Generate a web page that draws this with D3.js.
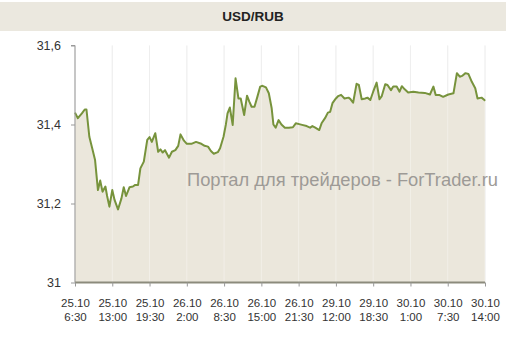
<!DOCTYPE html>
<html><head><meta charset="utf-8">
<script src="https://cdn.jsdelivr.net/npm/d3@7"></script>
<style>html,body{margin:0;padding:0;background:#fff;}svg{display:block;}</style>
</head><body>
<svg id="c" width="506" height="338"></svg>
<script>
const title = "USD/RUB";
const watermark = "Портал для трейдеров - ForTrader.ru";
const tickDates = ["25.10","25.10","25.10","26.10","26.10","26.10","26.10","29.10","29.10","30.10","30.10","30.10"];
const tickTimes = ["6:30","13:00","19:30","2:00","8:30","15:00","21:30","12:00","18:30","1:00","7:30","14:00"];
const yTicks = [31, 31.2, 31.4, 31.6];
// trading hours elapsed since 25.10 6:30 (axis labels every 6.5 h)
const hoursFromStart = [0.0,0.5,1.2,1.7,2.0,2.5,3.0,3.5,4.0,4.4,4.8,5.3,5.6,6.0,6.5,6.9,7.5,8.1,8.5,8.9,9.5,10.1,10.5,11.0,11.4,12.0,12.6,13.0,13.4,14.0,14.5,14.9,15.3,15.7,16.4,16.9,17.5,18.0,18.4,19.0,19.5,20.3,21.1,21.9,22.6,23.2,23.7,24.2,24.9,25.3,25.9,26.3,26.6,27.0,27.5,28.0,28.5,28.9,29.5,30.0,30.4,30.8,31.3,31.8,32.3,32.7,33.3,33.8,34.3,34.6,35.0,35.5,36.0,36.6,37.3,38.0,38.5,39.1,39.6,40.4,41.0,41.4,41.9,42.6,43.0,43.6,44.1,44.5,44.9,45.5,45.9,46.4,47.0,47.7,48.0,48.5,49.1,49.5,50.0,50.6,51.0,51.5,52.0,52.6,53.1,53.5,54.1,54.5,55.1,55.5,56.1,56.6,57.0,57.5,58.1,59.0,59.9,61.0,61.9,62.5,62.9,63.5,64.2,65.1,66.0,66.6,67.1,67.5,68.1,68.6,69.2,69.8,70.2,70.9,71.4,71.5];
const rates = [31.430,31.416,31.428,31.438,31.438,31.369,31.340,31.310,31.234,31.258,31.230,31.243,31.219,31.192,31.234,31.209,31.185,31.213,31.241,31.219,31.241,31.243,31.247,31.247,31.289,31.306,31.361,31.368,31.356,31.378,31.331,31.337,31.329,31.335,31.316,31.331,31.335,31.346,31.375,31.359,31.351,31.351,31.356,31.352,31.346,31.344,31.333,31.326,31.330,31.340,31.369,31.399,31.428,31.443,31.399,31.517,31.466,31.466,31.424,31.473,31.458,31.445,31.445,31.470,31.496,31.498,31.494,31.479,31.441,31.400,31.392,31.411,31.400,31.392,31.392,31.393,31.403,31.401,31.399,31.396,31.392,31.396,31.392,31.386,31.403,31.416,31.430,31.432,31.454,31.466,31.472,31.475,31.466,31.468,31.465,31.455,31.503,31.500,31.464,31.466,31.468,31.462,31.483,31.506,31.464,31.472,31.502,31.500,31.487,31.496,31.496,31.483,31.497,31.489,31.481,31.483,31.481,31.480,31.476,31.496,31.475,31.475,31.470,31.476,31.479,31.530,31.521,31.523,31.530,31.528,31.508,31.492,31.466,31.468,31.462,31.460];

const svg = d3.select("#c");
const W = 506, H = 338;
const m = {left: 75, right: 21, top: 45.5, bottom: 55.5};
const x = d3.scaleLinear().domain([0, 71.5]).range([m.left, W - m.right]);
const y = d3.scaleLinear().domain([31, 31.6]).range([H - m.bottom, m.top]);
const tickHours = tickDates.map((d, i) => i * 6.5);
const FONT = "Liberation Sans, Arial, sans-serif";

// title bar
svg.append("rect").attr("x", 0).attr("y", 2).attr("width", W).attr("height", 29).attr("fill", "#ebe8df");
svg.append("text").attr("x", W / 2).attr("y", 21).attr("text-anchor", "middle")
  .attr("font-family", FONT).attr("font-weight", "bold")
  .attr("font-size", 13.5).attr("fill", "#222").text(title);

// vertical gridlines
svg.append("g").selectAll("line").data(tickHours).join("line")
  .attr("x1", d => x(d)).attr("x2", d => x(d))
  .attr("y1", y(31.6)).attr("y2", y(31))
  .attr("stroke", "#e6e6e6").attr("stroke-width", 1);

const pts = hoursFromStart.map((h, i) => [h, rates[i]]);
svg.append("path").datum(pts)
  .attr("d", d3.area().x(d => x(d[0])).y0(y(31)).y1(d => y(d[1])))
  .attr("fill", "#ebe7dc");

// gridlines seen through the fill
svg.append("g").selectAll("line").data(tickHours.slice(1)).join("line")
  .attr("x1", d => x(d)).attr("x2", d => x(d))
  .attr("y1", y(31.6)).attr("y2", y(31))
  .attr("stroke", "#ffffff").attr("stroke-opacity", 0.35).attr("stroke-width", 1);

// watermark
svg.append("text").attr("x", 187).attr("y", 186)
  .attr("font-family", FONT).attr("font-size", 17.5)
  .attr("fill", "#9d9a96").attr("textLength", 311).attr("lengthAdjust", "spacingAndGlyphs")
  .text(watermark);

svg.append("path").datum(pts)
  .attr("d", d3.line().x(d => x(d[0])).y(d => y(d[1])))
  .attr("fill", "none").attr("stroke", "#77933c").attr("stroke-width", 2)
  .attr("stroke-linejoin", "round");

// y axis
const ya = svg.append("g").attr("transform", `translate(${m.left},0)`)
  .call(d3.axisLeft(y).tickValues(yTicks).tickSize(4).tickPadding(10)
    .tickFormat(d => d3.format("~g")(d).replace(".", ",")));
ya.select(".domain").attr("stroke", "#999").attr("d", `M-4,${y(31.6)}H0V${y(31)}`);
ya.selectAll(".tick line").attr("stroke", "#999");
ya.selectAll(".tick text").attr("font-family", FONT)
  .attr("font-size", 12.5).attr("fill", "#333");

// x axis
const xa = svg.append("g").attr("transform", `translate(0,${y(31)})`)
  .call(d3.axisBottom(x).tickValues(tickHours).tickSize(4).tickFormat(""));
xa.select(".domain").attr("stroke", "#8c8b7c").attr("stroke-width", 2).attr("d", `M${m.left},0H${W - m.right}`);
xa.selectAll(".tick line").attr("stroke", "#999");
const lab = xa.selectAll(".tick").append("text")
  .attr("text-anchor", "middle").attr("font-family", FONT)
  .attr("font-size", 11.5).attr("fill", "#333");
lab.append("tspan").attr("x", 0).attr("y", 24).text((d, i) => tickDates[i]);
lab.append("tspan").attr("x", 0).attr("y", 38).text((d, i) => tickTimes[i]);
</script>
</body></html>
